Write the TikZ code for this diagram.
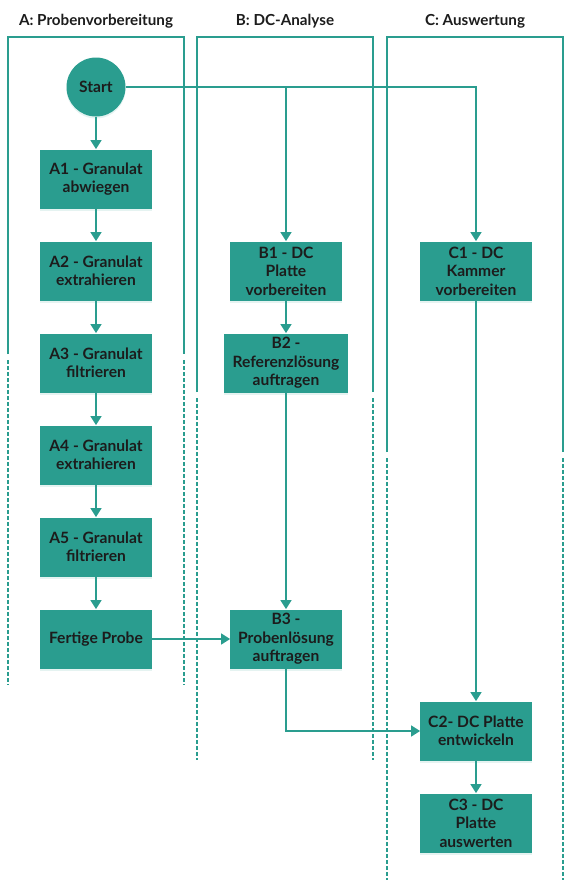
\documentclass[tikz,border=0pt]{standalone}
\usepackage{fontspec}
\setmainfont{Lato}
\usetikzlibrary{backgrounds,arrows.meta,shadows}
\definecolor{flowteal}{HTML}{2A9D8F}
\definecolor{textdark}{HTML}{1C1C1C}

\begin{document}
\begin{tikzpicture}[x=1pt,y=-1pt,thick]
	% `process' is used for the step boxes, `startnode' for the circle.
	% `lane' is the solid frame of a column, `lanecont' its dashed end.
	\tikzstyle{process} = [fill=flowteal,text=textdark,font=\bfseries\fontsize{15.6}{18.5}\selectfont,align=center,minimum width=111pt,minimum height=59pt,inner sep=3pt,drop shadow={shadow xshift=0pt,shadow yshift=-2pt,opacity=0.12,fill=flowteal}]
	\tikzstyle{startnode} = [process,shape=circle,minimum size=59pt,inner sep=0pt]
	\tikzstyle{lane} = [draw=flowteal,line width=1.3pt]
	\tikzstyle{lanecont} = [lane,dash pattern=on 3.5pt off 2.5pt]
	\tikzstyle{lanetitle} = [text=textdark,font=\bfseries\fontsize{15.2}{18}\selectfont]
	\tikzstyle{flow} = [draw=flowteal,line width=1.5pt,->,>={Triangle[width=11pt,length=9pt]}]
	\useasboundingbox (0,0) rectangle (571,889);
	%
	\matrix[row sep=33pt, column sep=72.5pt, matrix anchor=start.center] (steps) at (96,87) {
	% Rows 1-2.
		\node[startnode] (start) {Start}; & & \\
		\node[process] (a1) {A1 - Granulat\\abwiegen}; & & \\
	% Row 3.
		\node[process] (a2) {A2 - Granulat\\extrahieren}; &
		\node[process] (b1) {B1 - DC\\Platte\\vorbereiten}; &
		\node[process] (c1) {C1 - DC\\Kammer\\vorbereiten}; \\
	% Row 4.
		\node[process] (a3) {A3 - Granulat\\filtrieren}; &
		\node[process,minimum width=124pt] (b2) {B2 -\\Referenzlösung\\auftragen}; & \\
	% Rows 5-7.
		\node[process] (a4) {A4 - Granulat\\extrahieren}; & & \\
		\node[process] (a5) {A5 - Granulat\\filtrieren}; & & \\
		\node[process] (probe) {Fertige Probe}; &
		\node[process] (b3) {B3 -\\Probenlösung\\auftragen}; & \\
	% Rows 8-9.
		& & \node[process] (c2) {C2- DC Platte\\entwickeln}; \\
		& & \node[process] (c3) {C3 - DC\\Platte\\auswerten}; \\
	};
	% Column titles.
	\node[lanetitle] (titleA) at (96,21) {A: Probenvorbereitung};
	\node[lanetitle] (titleB) at (285,21) {B: DC-Analyse};
	\node[lanetitle] (titleC) at (475,21) {C: Auswertung};
	\begin{pgfonlayer}{background}
		% Draw lane frames.
		\draw[lane] (8,354) -- (8,37) -- (184,37) -- (184,354);
		\draw[lanecont] (8,360) -- (8,685) (184,360) -- (184,685);
		\draw[lane] (197,392) -- (197,37) -- (373,37) -- (373,392);
		\draw[lanecont] (197,398) -- (197,760) (373,398) -- (373,760);
		\draw[lane] (387,452) -- (387,37) -- (563,37) -- (563,452);
		\draw[lanecont] (387,458) -- (387,880) (563,458) -- (563,880);
	\end{pgfonlayer}
	% Draw connectors.
	\draw[flow] (start) -- (a1);
	\draw[flow] (a1) -- (a2);
	\draw[flow] (a2) -- (a3);
	\draw[flow] (a3) -- (a4);
	\draw[flow] (a4) -- (a5);
	\draw[flow] (a5) -- (probe);
	\draw[flow] (start.east) -| (b1.north);
	\draw[flow] (start.east) -| (c1.north);
	\draw[flow] (b1) -- (b2);
	\draw[flow] (b2) -- (b3);
	\draw[flow] (probe) -- (b3);
	\draw[flow] (c1) -- (c2);
	\draw[flow] (b3.south) |- (c2.west);
	\draw[flow] (c2) -- (c3);
%
\end{tikzpicture}
\end{document}
